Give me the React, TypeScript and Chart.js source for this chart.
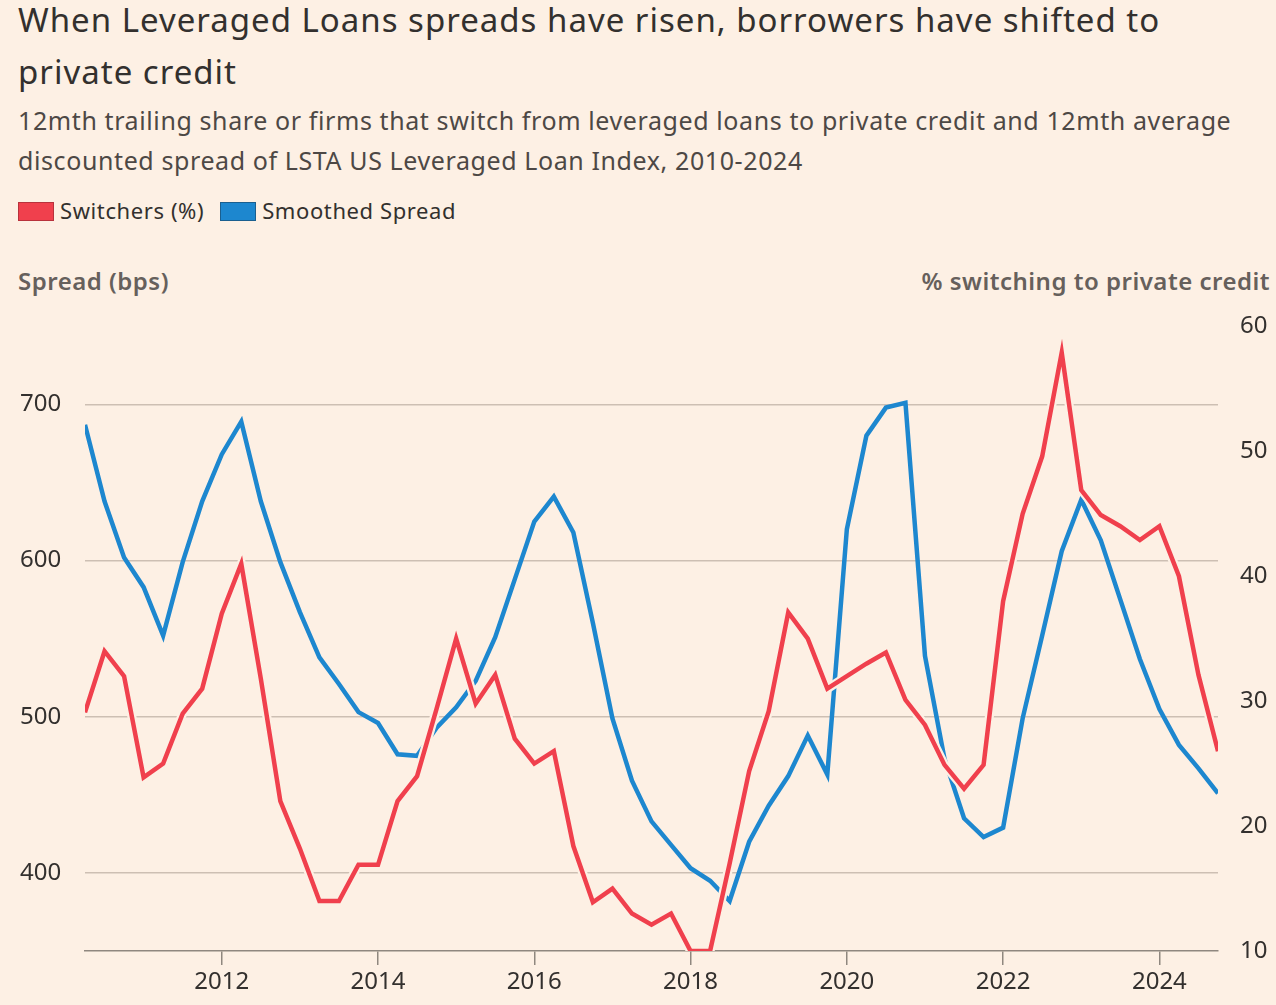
import React, { useEffect, useRef } from "react";
import Chart from "chart.js/auto";

// quarterly observations, 2010 Q2 .. 2024 Q4
const quarters: number[] = [];
for (let y = 2010; y <= 2024; y++) {
    for (const q of [0, 0.25, 0.5, 0.75]) {
        if (y + q >= 2010.25) quarters.push(y + q);
    }
}

const switchers = [
    29.1, 34.0, 32.0,
    23.9, 25.0, 29.0, 31.0,
    37.0, 41.0, 31.8, 22.0,
    18.2, 14.0, 14.0, 16.9,
    16.9, 22.0, 24.0, 29.4,
    35.0, 29.8, 32.1, 27.0,
    25.0, 26.0, 18.4, 13.9,
    15.0, 13.0, 12.1, 13.0,
    10.0, 10.0, 17.0, 24.4,
    29.2, 37.1, 35.0, 31.0,
    32.0, 33.0, 33.9, 30.1,
    28.1, 24.9, 23.0, 24.9,
    38.0, 45.0, 49.6, 57.9,
    46.9, 44.9, 44.0, 42.9,
    44.0, 40.0, 32.1, 26.0,
];

const spread = [
    687, 638, 602,
    583, 552, 599, 638,
    668, 689, 638, 599,
    567, 538, 521, 503,
    496, 476, 475, 493,
    506, 523, 551, 588,
    625, 641, 618, 560,
    499, 459, 433, 418,
    403, 395, 382, 420,
    443, 462, 488, 463,
    620, 680, 698, 701,
    539, 473, 435, 423,
    429, 499, 552, 606,
    639, 613, 575, 537,
    505, 482, 467, 451,
];

const yearTicks = [2012, 2014, 2016, 2018, 2020, 2022, 2024];
const spreadTicks = [400, 500, 600, 700];
const switcherTicks = [10, 20, 30, 40, 50, 60];

const BG = "#fdf0e4";
const RED = "#f0404d";
const BLUE = "#1d87cf";
const FONT = "'Noto Sans', sans-serif";

export default function App() {
    const canvasRef = useRef<HTMLCanvasElement | null>(null);
    const chartRef = useRef<Chart | null>(null);

    useEffect(() => {
        const canvas = canvasRef.current;
        if (!canvas) return;

        const tickFont = { family: FONT, size: 24 };

        chartRef.current = new Chart(canvas, {
            type: "line",
            data: {
                datasets: [
                    {
                        label: "Switchers (%)",
                        data: quarters.map((x, i) => ({ x, y: switchers[i] })),
                        borderColor: RED,
                        borderWidth: 4.5,
                        yAxisID: "yR",
                        pointRadius: 0,
                        tension: 0,
                        order: 0,
                    },
                    {
                        // paper-coloured outline under the red line
                        label: "halo",
                        data: quarters.map((x, i) => ({ x, y: switchers[i] })),
                        borderColor: BG,
                        borderWidth: 9,
                        yAxisID: "yR",
                        pointRadius: 0,
                        tension: 0,
                        order: 1,
                    },
                    {
                        label: "Smoothed Spread",
                        data: quarters.map((x, i) => ({ x, y: spread[i] })),
                        borderColor: BLUE,
                        borderWidth: 4.5,
                        yAxisID: "yL",
                        pointRadius: 0,
                        tension: 0,
                        order: 2,
                    },
                ],
            },
            options: {
                animation: false,
                responsive: true,
                maintainAspectRatio: false,
                layout: { padding: { left: 20, right: 0, top: 32, bottom: 0 } },
                plugins: {
                    legend: { display: false },
                    tooltip: { enabled: false },
                },
                scales: {
                    x: {
                        type: "linear",
                        min: 2010.25,
                        max: 2024.75,
                        afterBuildTicks: (s: any) => {
                            s.ticks = yearTicks.map((v) => ({ value: v }));
                        },
                        afterFit: (s: any) => {
                            s.height = 54;
                        },
                        ticks: {
                            font: tickFont,
                            color: "#33302e",
                            padding: 3,
                            maxRotation: 0,
                            autoSkip: false,
                            callback: (v: any) => String(v),
                        },
                        grid: {
                            drawOnChartArea: false,
                            drawTicks: true,
                            tickLength: 14,
                            color: "#8f877f",
                            lineWidth: 1.5,
                        },
                        border: { display: true, color: "#8f877f", width: 1.5 },
                    },
                    yL: {
                        type: "linear",
                        position: "left",
                        min: 350,
                        max: 750,
                        afterBuildTicks: (s: any) => {
                            s.ticks = spreadTicks.map((v) => ({ value: v }));
                        },
                        afterFit: (s: any) => {
                            s.width = 65;
                        },
                        ticks: {
                            font: tickFont,
                            color: "#33302e",
                            crossAlign: "far",
                            padding: 0,
                        },
                        grid: {
                            color: "#cdbfb3",
                            lineWidth: 1.5,
                            drawTicks: false,
                        },
                        border: { display: false },
                    },
                    yR: {
                        type: "linear",
                        position: "right",
                        min: 10,
                        max: 60,
                        afterBuildTicks: (s: any) => {
                            s.ticks = switcherTicks.map((v) => ({ value: v }));
                        },
                        afterFit: (s: any) => {
                            s.width = 58;
                        },
                        ticks: {
                            font: tickFont,
                            color: "#33302e",
                            padding: 22,
                        },
                        grid: { display: false, drawTicks: false },
                        border: { display: false },
                    },
                },
            } as any,
        });

        return () => {
            if (chartRef.current) {
                chartRef.current.destroy();
                chartRef.current = null;
            }
        };
    }, []);

    const swatch = (color: string, border: string): React.CSSProperties => ({
        display: "inline-block",
        width: 34,
        height: 17,
        background: color,
        border: `1px solid ${border}`,
        marginRight: 6,
        verticalAlign: "-2px",
    });

    return (
        <div style={{ position: "absolute", left: 0, top: 0, width: 1276, height: 1005, background: BG, fontFamily: FONT, overflow: "hidden" }}>
            <div style={{ position: "absolute", left: 18, top: -6, fontSize: 33, letterSpacing: "1px", lineHeight: "52px", color: "#33302e", whiteSpace: "nowrap" }}>
                When Leveraged Loans spreads have risen, borrowers have shifted to
                <br />
                private credit
            </div>
            <div style={{ position: "absolute", left: 18, top: 100, fontSize: 25, letterSpacing: "0.6px", lineHeight: "40px", color: "#4d4845", whiteSpace: "nowrap" }}>
                12mth trailing share or firms that switch from leveraged loans to private credit and 12mth average
                <br />
                discounted spread of LSTA US Leveraged Loan Index, 2010-2024
            </div>
            <div style={{ position: "absolute", left: 18, top: 196, fontSize: 22, letterSpacing: "0.6px", lineHeight: "28px", color: "#33302e", whiteSpace: "nowrap" }}>
                <span style={swatch(RED, "#b8323c")} />
                <span style={{ marginRight: 16 }}>Switchers (%)</span>
                <span style={swatch(BLUE, "#1a5f8f")} />
                <span>Smoothed Spread</span>
            </div>
            <div style={{ position: "absolute", left: 18, top: 266, fontSize: 24, letterSpacing: "0.5px", lineHeight: "30px", fontWeight: 600, color: "#66605c", whiteSpace: "nowrap" }}>
                Spread (bps)
            </div>
            <div style={{ position: "absolute", right: 6, top: 266, fontSize: 24, letterSpacing: "0.5px", lineHeight: "30px", fontWeight: 600, color: "#66605c", whiteSpace: "nowrap" }}>
                % switching to private credit
            </div>
            <div style={{ position: "absolute", left: 0, top: 290, width: 1276, height: 715 }}>
                <canvas ref={canvasRef} />
            </div>
        </div>
    );
}
